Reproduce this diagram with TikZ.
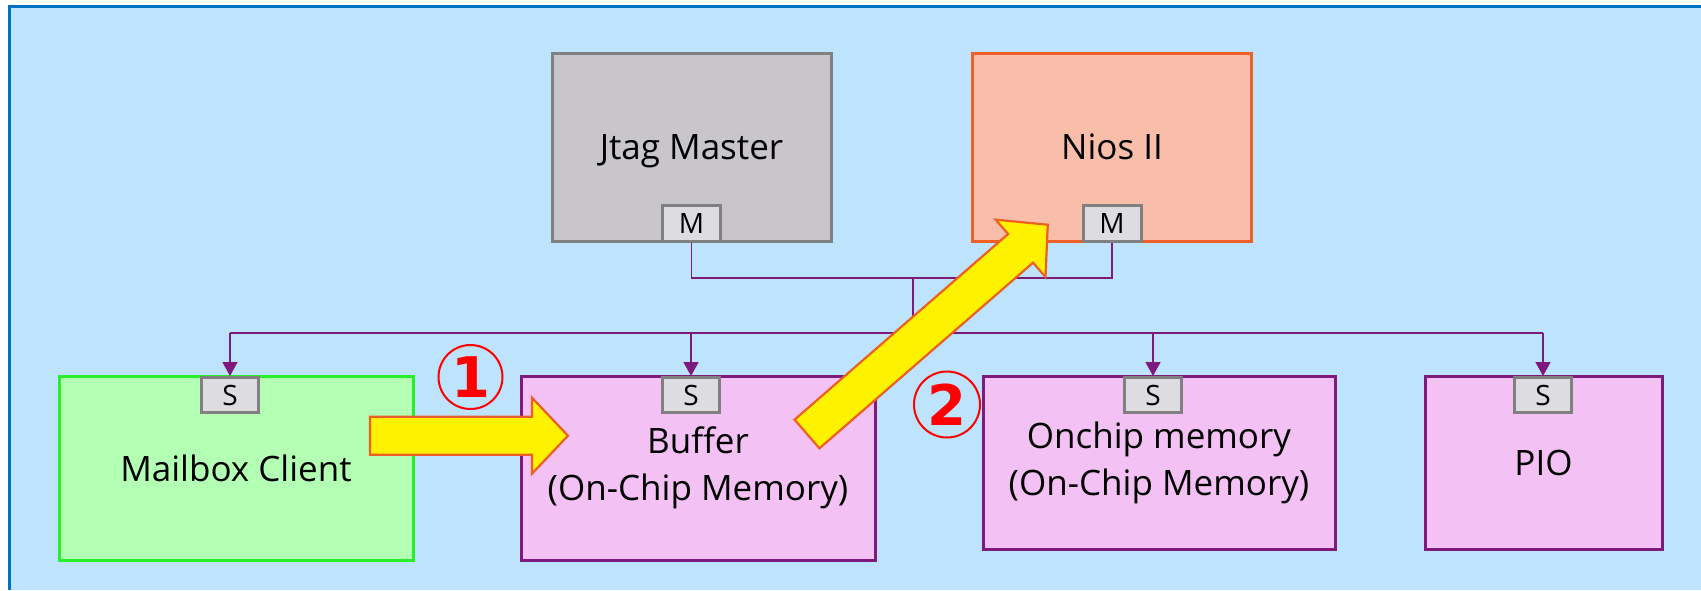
\documentclass[tikz,border=0pt]{standalone}
\usepackage{fontspec}
\setmainfont{Open Sans}
\newfontfamily\markfont{DejaVu Sans}
\usetikzlibrary{arrows.meta,positioning}

\definecolor{panelbg}{RGB}{189,227,253}
\definecolor{panelframe}{RGB}{0,112,192}
\definecolor{masterfill}{RGB}{200,198,203}
\definecolor{masterline}{RGB}{128,128,128}
\definecolor{niosfill}{RGB}{248,190,170}
\definecolor{niosline}{RGB}{238,96,40}
\definecolor{clientfill}{RGB}{179,255,179}
\definecolor{clientline}{RGB}{40,240,40}
\definecolor{slavefill}{RGB}{243,193,243}
\definecolor{busline}{RGB}{126,26,126}
\definecolor{portfill}{RGB}{221,220,224}
\definecolor{flowline}{RGB}{236,96,36}

% block arrow: start point, angle, length
\newcommand{\flowarrow}[3]{%
  \draw[flow, shift={#1}, rotate=#2] (0,-19) -- ({#3-36},-19) -- ({#3-36},-38)
    -- (#3,0) -- ({#3-36},38) -- ({#3-36},19) -- (0,19) -- cycle;}

\begin{document}
\begin{tikzpicture}[
    x=1pt, y=-1pt,
    box/.style={rectangle, draw, line width=3pt, align=center, inner sep=0pt,
      font=\fontsize{35}{47}\selectfont},
    master/.style={box, draw=masterline, fill=masterfill, minimum width=279pt, minimum height=188pt,
      text depth=0pt},
    slave/.style={box, draw=busline, fill=slavefill, minimum height=173pt},
    port/.style={rectangle, draw=masterline, fill=portfill, line width=3pt, inner sep=0pt,
      minimum width=57pt, minimum height=35pt, font=\fontsize{28}{28}\selectfont},
    bus/.style={draw=busline, line width=1.6pt},
    tap/.style={bus, -{Triangle[width=15pt,length=14pt]}},
    flow/.style={fill=yellow, draw=flowline, line width=2.2pt, line join=miter},
    stepmark/.style={circle, draw=red, line width=2pt, inner sep=0pt, text=red,
      font=\markfont\bfseries\fontsize{56}{56}\selectfont}
]
    \useasboundingbox (0,0) rectangle (1701,590);
    \fill[panelbg] (9.5,6.5) rectangle (1701,590);
    \draw[panelframe, line width=3.5pt] (9.5,590) -- (9.5,6.5) -- (1701,6.5);

    % masters
    \node[master] (jtag) at (691.5,147) {Jtag Master};
    \node[master, draw=niosline, fill=niosfill] (nios) at (1112,147) {Nios II};
    \node[port, minimum width=58pt, minimum height=36pt, anchor=south] (jtagM) at (jtag.south) {M};
    \node[port, minimum width=58pt, minimum height=36pt, anchor=south] (niosM) at (nios.south) {M};

    % slaves
    \node[box, draw=clientline, fill=clientfill, minimum width=354pt, minimum height=184pt] (mail) at (236,468) {Mailbox Client};
    \node[slave, minimum width=354pt, minimum height=184pt] (buffer) at (698,468) {Buffer\\(On-Chip Memory)};
    \node[slave, minimum width=352pt] (chip) at (1159,462.5) {Onchip memory\\(On-Chip Memory)};
    \node[slave, minimum width=237pt] (pio) at (1543.5,462.5) {PIO};
    \node[port, anchor=north] (mailS) at (230,376) {S};
    \node[port, anchor=north] (bufS) at (691,376) {S};
    \node[port, anchor=north] (chipS) at (1153,376) {S};
    \node[port, anchor=north] (pioS) at (1543,376) {S};

    % interconnect
    \coordinate (join) at (913,278);
    \coordinate (hub) at (913,333);
    \draw[bus] (jtagM.south) |- (join) -| (niosM.south);
    \draw[bus] (join) -- (hub);
    \draw[bus] (mailS.north |- hub) -- (pioS.north |- hub);
    \foreach \s in {mailS, bufS, chipS, pioS}
        \draw[tap] (\s.north |- hub) -- (\s.north);

    % data flow
    \flowarrow{(370,435.7)}{0}{198}
    \flowarrow{(807,434)}{41}{319}
    \node[stepmark, minimum size=64pt] (stepA) at (470.5,377) {1};
    \node[stepmark, minimum size=66pt] (stepB) at (947,404.5) {2};
\end{tikzpicture}
\end{document}
